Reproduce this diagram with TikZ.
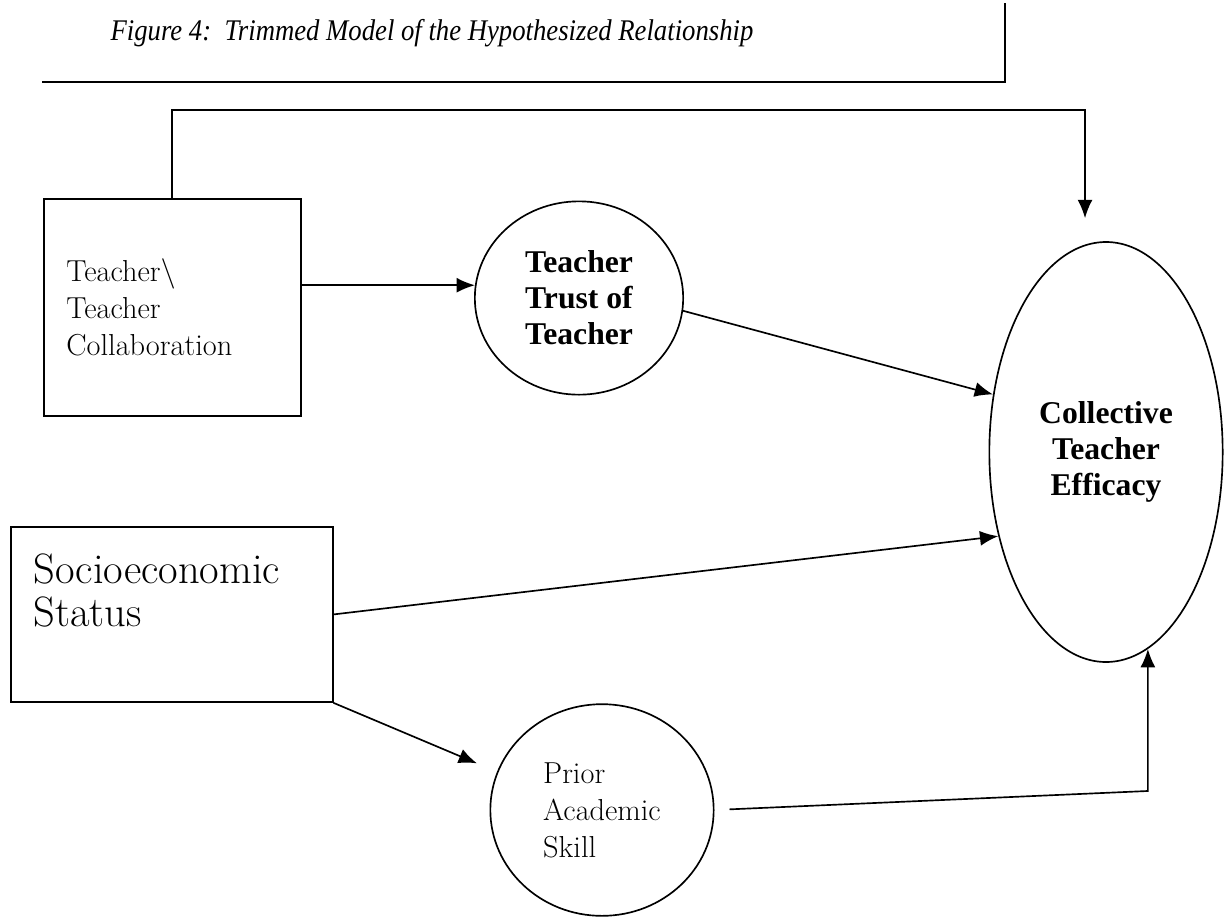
\documentclass[tikz,border=0pt]{standalone}
\usepackage{fontspec}
\newfontfamily\timesfont{Liberation Serif}
\usepackage{tikz}
\usetikzlibrary{calc}
\usetikzlibrary{arrows.meta}
\usetikzlibrary{shapes}
\usetikzlibrary{positioning}
\usetikzlibrary{shapes.geometric}

\begin{document}
\begin{tikzpicture}[x=0.6pt, y=-0.6pt,
  varbox/.style={rectangle, draw=black, line width=1.1pt, align=left, inner xsep=13pt, anchor=north west},
  latent/.style={ellipse, draw=black, line width=1pt, inner sep=0pt},
  link/.style={-{Latex[length=11pt,width=9pt]}, line width=1pt, draw=black}]
\useasboundingbox (0,0) rectangle (1228,918);
\node [anchor=base, font=\timesfont\itshape\fontsize{18}{22}\selectfont] (title) at (432,40) {\scalebox{0.89}[1]{Figure 4:\ \ Trimmed Model of the Hypothesized Relationship}};
\draw [line width=1.1pt] (42,82) -- (1005,82) -- (1005,3);
\node [varbox, minimum width=154pt, minimum height=130pt, text width=127pt, font=\fontsize{18.2}{22.2}\selectfont] (TTC) at (43,198) {Teacher\textbackslash\\Teacher\\Collaboration};
\node [varbox, minimum width=193pt, minimum height=105pt, text width=166pt, font=\fontsize{25.5}{26}\selectfont] (SES) at (10,526) {Socioeconomic\\Status\\[2.8pt]\mbox{}};
\node [latent, minimum width=125pt, minimum height=116pt, align=center, font=\timesfont\bfseries\fontsize{19}{21.6}\selectfont] (TTT) at (579,298) {Teacher\\Trust of\\Teacher};
\node [latent, minimum width=140pt, minimum height=252pt, align=center, font=\timesfont\bfseries\fontsize{19}{21.6}\selectfont] (CTE) at (1106,452) {Collective\\Teacher\\Efficacy};
\node [latent, minimum width=134pt, minimum height=127pt, align=left, font=\fontsize{18.2}{22.2}\selectfont] (PAS) at (602,810) {Prior\\Academic\\Skill};
\coordinate (topturn) at (1085,110);
\coordinate (bottomturn) at ($(CTE.-78)+(0,142)$);
\draw [link] (TTC.north) |- (topturn) -- ($(CTE.north)+(-21,-23)$);
\draw [link] (TTC.east |- TTT.173) -- (TTT.173);
\draw [link] (TTT.-7) -- (CTE.153);
\draw [link] (SES.east) -- (CTE.218);
\draw [link, shorten >=13pt] (SES.south east) -- (PAS.160);
\draw [link, shorten <=9pt] (PAS.east) -- (bottomturn) -- (CTE.-78);
\end{tikzpicture}
\end{document}
